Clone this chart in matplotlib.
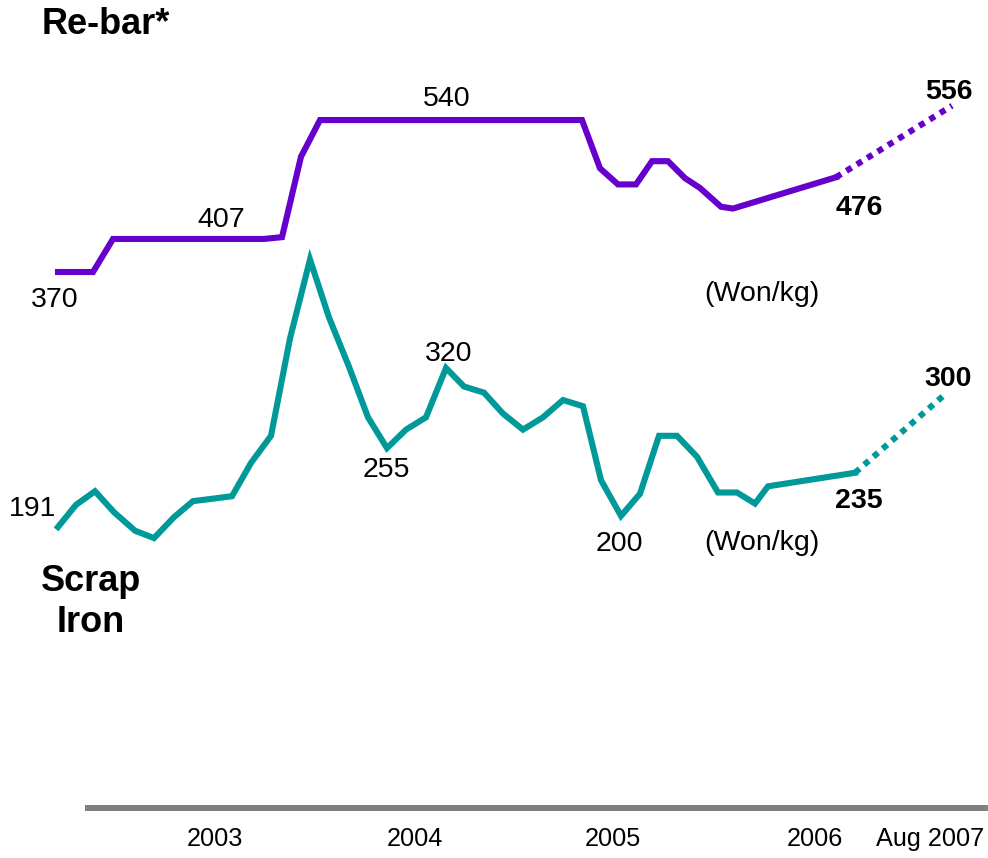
import matplotlib
matplotlib.use("Agg")
import matplotlib.pyplot as plt

plt.rcParams['font.family'] = ['Liberation Sans', 'DejaVu Sans']

# ---- data -------------------------------------------------------------
rebar_x = [2002.715, 2002.800, 2002.890, 2002.990, 2003.085, 2003.185, 2003.275,
           2003.365, 2003.460, 2003.550, 2003.650, 2003.745, 2003.835, 2003.930,
           2004.025, 2004.115, 2004.210, 2004.310, 2004.400, 2004.490, 2004.590,
           2004.680, 2004.775, 2004.865, 2004.965, 2005.055, 2005.145, 2005.245,
           2005.335, 2005.425, 2005.515, 2005.605, 2005.685, 2005.765, 2005.850,
           2005.925, 2006.030, 2006.090, 2006.605]
rebar_y = [370, 370, 370, 407, 407, 407, 407, 407, 407, 407, 407, 407, 409, 499,
           540, 540, 540, 540, 540, 540, 540, 540, 540, 540, 540, 540, 540, 540,
           540, 486, 468, 468, 494, 494, 475, 464, 443, 441, 476]
rebar_proj_x = [2006.605, 2007.185]
rebar_proj_y = [476, 556]

scrap_x = [2002.715, 2002.805, 2002.900, 2002.995, 2003.100, 2003.195, 2003.295,
           2003.390, 2003.490, 2003.585, 2003.680, 2003.780, 2003.875, 2003.975,
           2004.070, 2004.170, 2004.265, 2004.360, 2004.455, 2004.555, 2004.655,
           2004.745, 2004.845, 2004.940, 2005.040, 2005.140, 2005.240, 2005.340,
           2005.430, 2005.530, 2005.625, 2005.720, 2005.810, 2005.910, 2006.015,
           2006.110, 2006.200, 2006.265, 2006.700]
scrap_y = [191, 209, 220, 203, 188, 182, 199, 212, 214, 216, 243, 265, 344, 408,
           361, 321, 280, 255, 270, 280, 320, 305, 300, 283, 270, 280, 294, 289,
           229, 200, 218, 265, 265, 248, 219, 219, 210, 224, 235]
scrap_proj_x = [2006.700, 2007.160]
scrap_proj_y = [235, 300]

tick_pos = [2003.5, 2004.5, 2005.49, 2006.5, 2007.075]
tick_labels = ['2003', '2004', '2005', '2006', 'Aug 2007']

# labelled points: (x, value, label, bold, offset in pixels)
rebar_notes = [(2002.715, 370, '370', False, (-3, -28)),
               (2003.550, 407, '407', False, (-4, 19)),
               (2004.680, 540, '540', False, (-4, 21)),
               (2006.605, 476, '476', True, (23, -31)),
               (2007.185, 556, '556', True, (-3, 14))]
scrap_notes = [(2002.715, 191, '191', False, (-25, 18)),
               (2004.360, 255, '255', False, (-1, -22)),
               (2004.655, 320, '320', False, (3, 14)),
               (2005.530, 200, '200', False, (-2, -28)),
               (2006.700, 235, '235', True, (4, -28)),
               (2007.160, 300, '300', True, (1, 14))]

# ---- styling ------------------------------------------------------------
W, H = 988, 858
PURPLE = '#6600CC'
TEAL = '#009999'
GREY = '#808080'
LW = 4.4

fig = plt.figure(figsize=(W / 100, H / 100), dpi=100)
fig.patch.set_facecolor('white')

ax = fig.add_axes([85 / W, 50 / H, 903 / W, 808 / H])
ax2 = ax.twinx()

ax.set_xlim(2002.85, 2007.365)
ax.set_ylim(-229.6, 674.3)
ax2.set_ylim(-37.0, 618.6)

for a in (ax, ax2):
    a.patch.set_visible(False)
    for s in a.spines.values():
        s.set_visible(False)
    a.set_yticks([])

ax.spines['bottom'].set_visible(True)
ax.spines['bottom'].set_color(GREY)
ax.spines['bottom'].set_linewidth(4.3)
ax.spines['bottom'].set_capstyle('butt')

ax.set_xticks(tick_pos)
ax.set_xticklabels(tick_labels, fontsize=18.2)
ax.tick_params(axis='x', length=0, pad=13.5)

# re-bar line
ax.plot(rebar_x, rebar_y, color=PURPLE, lw=LW, clip_on=False,
        solid_joinstyle='miter')
ax.plot(rebar_proj_x, rebar_proj_y, color=PURPLE, lw=LW, clip_on=False,
        linestyle=(0, (1, 1)))

# scrap iron line
ax2.plot(scrap_x, scrap_y, color=TEAL, lw=LW, clip_on=False,
         solid_joinstyle='miter')
ax2.plot(scrap_proj_x, scrap_proj_y, color=TEAL, lw=LW, clip_on=False,
         linestyle=(0, (1, 1)))

for a, notes in ((ax, rebar_notes), (ax2, scrap_notes)):
    for x, v, txt, bold, off in notes:
        a.annotate(txt, xy=(x, v), xytext=off, textcoords='offset pixels',
                   ha='center', va='center', fontsize=20.5,
                   fontweight='bold' if bold else 'normal',
                   annotation_clip=False)

# titles and units
fig.text(42 / W, 1 - 24 / H, 'Re-bar*', fontsize=26, fontweight='bold',
         ha='left', va='center')
fig.text(91 / W, 1 - 602 / H, 'Scrap\nIron', fontsize=26, fontweight='bold',
         ha='center', va='center', multialignment='center', linespacing=1.25)
fig.text(762 / W, 1 - 294 / H, '(Won/kg)', fontsize=20.5, ha='center', va='center')
fig.text(762 / W, 1 - 543 / H, '(Won/kg)', fontsize=20.5, ha='center', va='center')

fig.savefig('out.png', dpi=100)
